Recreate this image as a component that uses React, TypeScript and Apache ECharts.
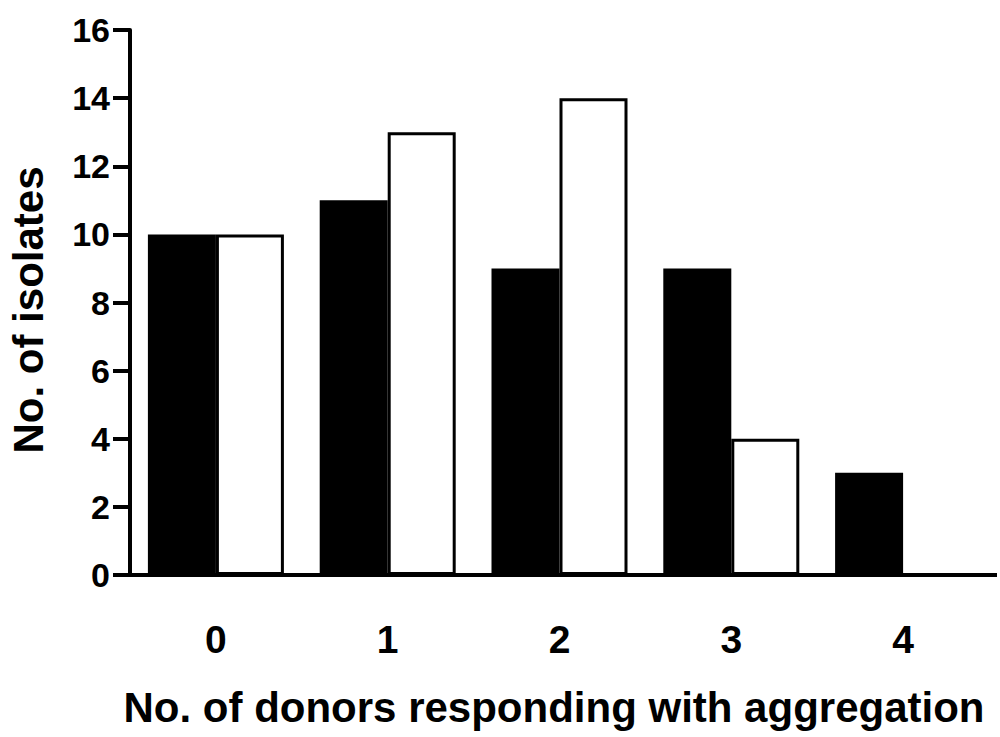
import React, { useEffect, useRef } from "react";
import * as echarts from "echarts";

// Number of donors whose platelets aggregated
const categories = ["0", "1", "2", "3", "4"];
// Isolate counts for the two groups (filled and open bars)
const filledCounts = [10, 11, 9, 9, 3];
const openCounts = [10, 13, 14, 4, 0];
const yTicks = { min: 0, max: 16, interval: 2 };

const xTitle = "No. of donors responding with aggregation";
const yTitle = "No. of isolates";

const FONT = '"Liberation Sans", Arial, Helvetica, sans-serif';

export default function App() {
  const ref = useRef<HTMLDivElement>(null);

  useEffect(() => {
    if (!ref.current) return;
    const chart = echarts.init(ref.current, null, { renderer: "svg" });
    const gridLeft = 130;
    const gridTop = 30;
    const gridWidth = 859;
    const gridBottomY = 575;

    chart.setOption({
      animation: false,
      backgroundColor: "#ffffff",
      grid: {
        left: gridLeft,
        top: gridTop,
        width: gridWidth,
        height: gridBottomY - gridTop,
        containLabel: false,
      },
      xAxis: {
        type: "category",
        data: categories,
        boundaryGap: true,
        axisLine: { show: true, lineStyle: { color: "#000", width: 4 } },
        axisTick: { show: false },
        axisLabel: {
          color: "#000",
          fontFamily: FONT,
          fontWeight: "bold",
          fontSize: 39,
          margin: 45,
        },
        splitLine: { show: false },
      },
      yAxis: {
        type: "value",
        min: yTicks.min,
        max: yTicks.max,
        interval: yTicks.interval,
        axisLine: { show: true, lineStyle: { color: "#000", width: 4 } },
        axisTick: { show: true, length: 17, lineStyle: { color: "#000", width: 4 } },
        axisLabel: {
          color: "#000",
          fontFamily: FONT,
          fontWeight: "bold",
          fontSize: 34,
          margin: 20,
        },
        splitLine: { show: false },
      },
      series: [
        {
          type: "bar",
          data: filledCounts,
          barWidth: 68,
          barGap: "0%",
          itemStyle: { color: "#000", borderColor: "#000", borderWidth: 3 },
        },
        {
          type: "bar",
          data: openCounts,
          barWidth: 68,
          barGap: "0%",
          itemStyle: { color: "#fff", borderColor: "#000", borderWidth: 3 },
        },
      ],
      graphic: [
        {
          type: "line",
          shape: { x1: gridLeft + gridWidth - 2, y1: gridBottomY, x2: 997, y2: gridBottomY },
          style: { stroke: "#000", lineWidth: 4 },
          z: 10,
        },
        {
          type: "text",
          x: 554,
          y: 707,
          style: {
            text: xTitle,
            fill: "#000",
            font: `bold 42px ${FONT}`,
            textAlign: "center",
            textVerticalAlign: "middle",
          },
        },
        {
          type: "text",
          x: 28,
          y: 310,
          rotation: Math.PI / 2,
          style: {
            text: yTitle,
            fill: "#000",
            font: `bold 42px ${FONT}`,
            textAlign: "center",
            textVerticalAlign: "middle",
          },
        },
      ],
    });

    return () => chart.dispose();
  }, []);

  return (
    <div
      ref={ref}
      style={{ position: "fixed", left: 0, top: 0, width: 1000, height: 737, background: "#fff" }}
    />
  );
}
